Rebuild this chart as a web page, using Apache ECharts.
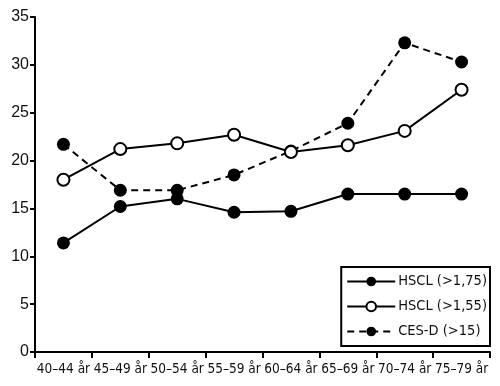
<!DOCTYPE html>
<html><head><meta charset="utf-8">
<script src="https://cdn.jsdelivr.net/npm/echarts@6/dist/echarts.min.js"></script>
<style>html,body{margin:0;padding:0;background:#fff}#c{width:500px;height:386px}</style>
</head><body><div id="c"></div>
<script>
const categories = ['40–44 år','45–49 år','50–54 år','55–59 år','60–64 år','65–69 år','70–74 år','75–79 år'];
const hscl175 = [11.4, 15.2, 16.0, 14.6, 14.7, 16.5, 16.5, 16.5];
const hscl155 = [18.0, 21.2, 21.8, 22.7, 20.9, 21.6, 23.1, 27.4];
const cesd = [21.7, 16.9, 16.9, 18.5, 21.0, 23.9, 32.3, 30.3];
const yTicks = [0, 5, 10, 15, 20, 25, 30, 35];

const chart = echarts.init(document.getElementById('c'), null, {renderer:'canvas'});
const narrow = '"DejaVu Sans Condensed",sans-serif';
chart.setOption({
  animation:false,
  backgroundColor:'#fff',
  grid:{left:35,right:10,top:17,bottom:34,containLabel:false},
  xAxis:{type:'category',data:categories,boundaryGap:true,
    axisLine:{lineStyle:{color:'#000',width:2}},
    axisTick:{show:true,length:6,lineStyle:{color:'#000',width:2},alignWithLabel:false},
    axisLabel:{color:'#111',fontFamily:narrow,fontSize:13.5,margin:10,interval:0},
    splitLine:{show:false}},
  yAxis:{type:'value',min:yTicks[0],max:yTicks[yTicks.length-1],interval:5,
    axisLine:{show:true,lineStyle:{color:'#000',width:2}},
    axisTick:{show:true,length:5,lineStyle:{color:'#000',width:2}},
    axisLabel:{color:'#111',fontFamily:'"Liberation Sans",Arial,sans-serif',fontSize:16,margin:6},
    splitLine:{show:false}},
  legend:{orient:'vertical',right:10,bottom:40,
    backgroundColor:'#fff',borderColor:'#000',borderWidth:2,borderRadius:0,
    padding:[7,3,7,5],itemGap:10,itemWidth:48,itemHeight:12,
    textStyle:{color:'#111',fontFamily:narrow,fontSize:14.5,padding:[0,0,0,-2]},
    data:['HSCL (>1,75)','HSCL (>1,55)','CES-D (>15)']},
  series:[
    {name:'HSCL (>1,75)',type:'line',data:hscl175,symbol:'circle',symbolSize:13,
     lineStyle:{color:'#000',width:2},itemStyle:{color:'#000',borderColor:'#000',borderWidth:0},z:3},
    {name:'CES-D (>15)',type:'line',data:cesd,symbol:'circle',symbolSize:13,
     lineStyle:{color:'#000',width:2,type:[7,5]},itemStyle:{color:'#000',borderColor:'#000',borderWidth:0},z:2},
    {name:'HSCL (>1,55)',type:'line',data:hscl155,symbol:'circle',symbolSize:12,
     lineStyle:{color:'#000',width:2},itemStyle:{color:'#fff',borderColor:'#000',borderWidth:2},z:4}
  ]
});
</script></body></html>
